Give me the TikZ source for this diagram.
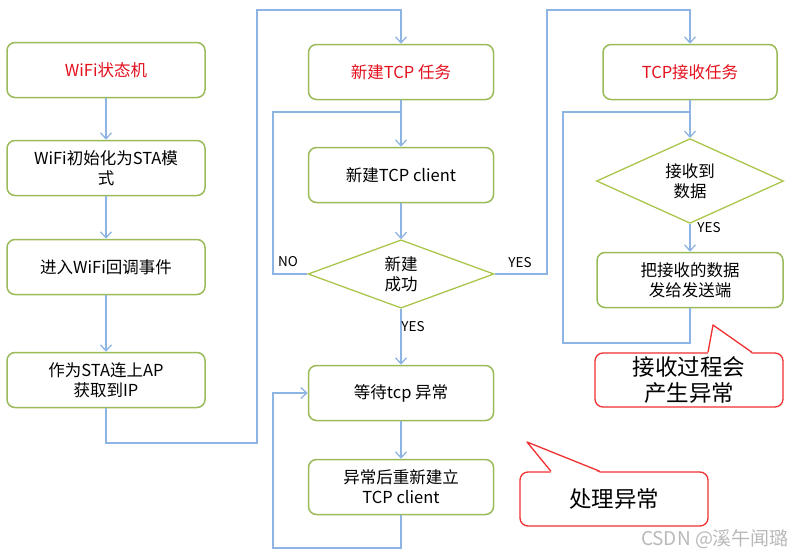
\documentclass[tikz,border=0pt]{standalone}
\usepackage{fontspec}
\setmainfont{Noto Sans CJK SC}
\usetikzlibrary{arrows.meta,shapes.geometric}
\definecolor{boxgreen}{HTML}{9BBB59}
\definecolor{linkblue}{HTML}{8EB4E3}
\definecolor{titlered}{HTML}{E3101E}
\definecolor{notered}{HTML}{F03030}

\begin{document}
\begin{tikzpicture}[
			x=1pt,
			y=-1pt,
			>={Straight Barb[length=6pt,width=11pt]},
			font=\fontsize{16.5}{20}\selectfont,
			box/.style={draw=boxgreen, line width=1.5pt, rounded corners=8pt, align=center, minimum width=198pt, minimum height=55pt, inner sep=2pt},
			midbox/.style={box, minimum width=185pt},
			test/.style={draw=boxgreen!85!yellow, line width=1.3pt, shape=diamond, align=center, inner sep=0pt, minimum width=186pt, minimum height=65pt},
			link/.style={draw=linkblue, line width=1.3pt},
			tag/.style={font=\fontsize{13.5}{16}\selectfont},
			note/.style={draw=notered, line width=1.3pt, rounded corners=8pt, fill=white, align=center, minimum width=188pt, minimum height=54pt, font=\fontsize{22.5}{26}\selectfont}
		]
			\useasboundingbox (0,0) rectangle (806,557);

			% wifi column
			\node[box, text=titlered] (wifi) at (106,70)  {WiFi状态机};
			\node[box]                (init) at (106,168) {WiFi初始化为STA模\\式};
			\node[box]                (cb)   at (106,267) {进入WiFi回调事件};
			\node[box]                (ip)   at (106,380) {作为STA连上AP\\获取到IP};

			% tcp column
			\node[midbox, text=titlered] (tcptask) at (401,72)  {新建TCP 任务};
			\node[midbox]                (client)  at (401,175) {新建TCP client};
			\node[test]                  (ok)      at (401,274) {新建\\成功};
			\node[midbox]                (wait)    at (401,393) {等待tcp 异常};
			\node[midbox]                (rebuild) at (401,487) {异常后重新建立\\TCP client};

			% receive column
			\node[box, minimum width=174pt, text=titlered] (rxtask) at (690,72) {TCP接收任务};
			\node[test, minimum width=187pt] (rx)   at (690,181) {接收到\\数据};
			\node[box, minimum width=186pt]  (send) at (690,280) {把接收的数据\\发给发送端};

			\coordinate (up1) at (257,443);
			\coordinate (up2) at (257,10);
			\coordinate (no1) at (273,112);
			\coordinate (back) at (273,548);
			\coordinate (yes1) at (547,10);
			\coordinate (rx1) at (563,343);
			\coordinate (rx2) at (690,112);

			\draw[link, ->] (wifi.south) -- (init.north);
			\draw[link, ->] (init.south) -- (cb.north);
			\draw[link, ->] (cb.south) -- (ip.north);
			\draw[link, ->] (ip.south) |- (up1) -- (up2) -| (tcptask.north);

			\draw[link, ->] (tcptask.south) -- (client.north);
			\draw[link] (ok.west) -| (no1) -- (tcptask.south |- no1);
			\draw[link, ->] (client.south) -- (ok.north);
			\draw[link, ->] (ok.south) -- (wait.north);
			\draw[link, ->] (ok.east) -| (yes1) -| (rxtask.north);
			\draw[link, ->] (wait.south) -- (rebuild.north);
			\draw[link, ->] (rebuild.south) |- (back) |- (wait.west);

			\draw[link, ->] (rxtask.south) -- (rx.north);
			\draw[link, ->] (rx.south) -- (send.north);
			\draw[link] (send.south) |- (rx1) |- (rx2);

			\node[tag] (nolabel)  at (288,262) {NO};
			\node[tag] (yeslabel) at (520,263) {YES};
			\node[tag] (yesdown)  at (413,327) {YES};
			\node[tag] (yesrx)    at (709,228) {YES};

			% callouts
			\node[note] (note1) at (689,380) {接收过程会\\产生异常};
			\coordinate (tip1) at (713,325);
			\fill[white] ([shift={(19,1.5)}]note1.north) -- (tip1) -- ([shift={(63,1.5)}]note1.north) -- cycle;
			\draw[notered, line width=1.3pt, line join=round] ([xshift=19pt]note1.north) -- (tip1) -- ([xshift=63pt]note1.north);

			\node[note] (note2) at (614,499) {处理异常};
			\coordinate (tip2) at (527,442);
			\fill[white] ([shift={(-63,1.5)}]note2.north) -- (tip2) -- ([shift={(-14,1.5)}]note2.north) -- cycle;
			\draw[notered, line width=1.3pt, line join=round] ([xshift=-63pt]note2.north) -- (tip2) -- ([xshift=-14pt]note2.north);

			\node[text=gray!55, font=\fontsize{19}{22}\selectfont] (mark) at (715,539) {CSDN @溪午闻璐};
		\end{tikzpicture}
\end{document}
